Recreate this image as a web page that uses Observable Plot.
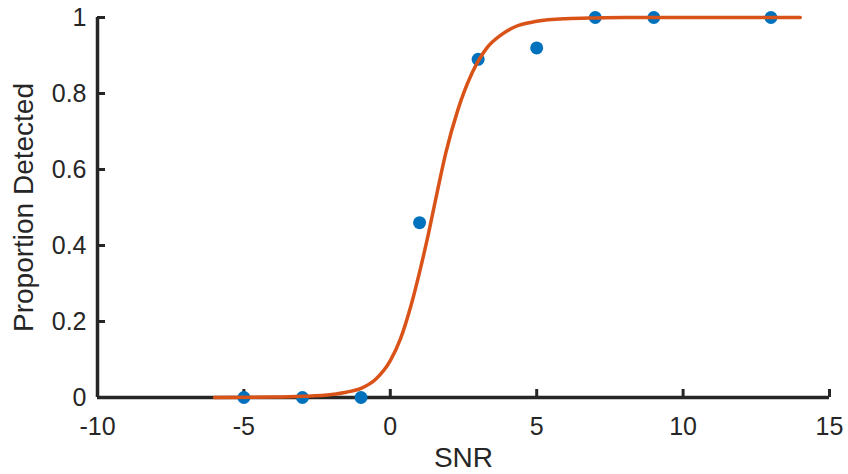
<!DOCTYPE html>
<html>
<head>
<meta charset="utf-8">
<script src="https://cdn.jsdelivr.net/npm/d3@7"></script>
<script src="https://cdn.jsdelivr.net/npm/@observablehq/plot@0.6"></script>
<style>
  html, body { margin: 0; padding: 0; background: #fff; overflow: hidden; }
  #chart svg { display: block; overflow: visible; }
</style>
</head>
<body>
<div id="chart"></div>
<script>
// Measured data (SNR vs proportion detected)
const snr = [-5, -3, -1, 1, 3, 5, 7, 9, 13];
const proportion = [0, 0, 0, 0.46, 0.89, 0.92, 1, 1, 1];

// Fitted curve, points
const curveX = [-6, -4, -3, -2, -1.5, -1, -0.5, 0, 0.35, 0.7, 1.0, 1.3, 1.6, 1.9, 2.3, 2.8, 3.3, 3.8, 4.3, 5, 6, 7, 8, 10, 12, 14];
const curveY = [0, 0.001, 0.003, 0.008, 0.014, 0.024, 0.048, 0.097, 0.155, 0.24, 0.33, 0.43, 0.54, 0.645, 0.755, 0.855, 0.92, 0.955, 0.977, 0.99, 0.997, 0.999, 1, 1, 1, 1];

const xTicks = [-10, -5, 0, 5, 10, 15];
const yTicks = [0, 0.2, 0.4, 0.6, 0.8, 1];
const yTickLabels = ["0", "0.2", "0.4", "0.6", "0.8", "1"];
const xLabel = "SNR";
const yLabel = "Proportion Detected";

const points = snr.map((x, i) => ({x, y: proportion[i]}));
const curve = curveX.map((x, i) => ({x, y: curveY[i]}));

const W = 848, H = 474;
const mL = 97, mR = 19, mT = 17, mB = 77;
const frameW = W - mL - mR, frameH = H - mT - mB;
const axisColor = "#262626";
const tickLen = 8;

const chart = Plot.plot({
  width: W,
  height: H,
  marginLeft: mL,
  marginRight: mR,
  marginTop: mT,
  marginBottom: mB,
  style: {fontFamily: "'Liberation Sans', Arial, Helvetica, sans-serif", color: axisColor, background: "#fff"},
  x: {domain: [-10, 15]},
  y: {domain: [0, 1]},
  marks: [
    Plot.axisX({ticks: xTicks, tickSize: 0, tickPadding: 20, fontSize: 25, label: null, tickFormat: d => String(d)}),
    Plot.axisY({ticks: yTicks, tickSize: 0, tickPadding: 11, fontSize: 25, label: null, tickFormat: d => yTickLabels[yTicks.indexOf(d)]}),
    Plot.tickX(xTicks, {x: d => d, stroke: axisColor, strokeWidth: 3, insetTop: frameH - tickLen}),
    Plot.tickY(yTicks, {y: d => d, stroke: axisColor, strokeWidth: 3, insetRight: frameW - tickLen}),
    Plot.ruleY([0], {stroke: axisColor, strokeWidth: 3.5}),
    Plot.ruleX([-10], {stroke: axisColor, strokeWidth: 3.5}),
    Plot.dot(points, {x: "x", y: "y", r: 6.5, fill: "#0072BD", stroke: "none"}),
    Plot.line(curve, {x: "x", y: "y", stroke: "#D95319", strokeWidth: 3.5, curve: "monotone-x"}),
    Plot.text([yLabel], {text: d => d, frameAnchor: "left", textAnchor: "middle", rotate: -90, dx: -73, fontSize: 28, fill: axisColor, lineAnchor: "middle"}),
    Plot.text([xLabel], {text: d => d, frameAnchor: "bottom", textAnchor: "middle", dy: 50, fontSize: 28, fill: axisColor, lineAnchor: "top"})
  ]
});
document.getElementById("chart").appendChild(chart);
</script>
</body>
</html>
